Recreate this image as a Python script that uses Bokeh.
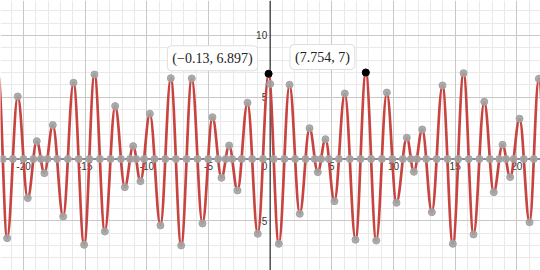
import numpy as np
from bokeh.plotting import figure
from bokeh.models import Span, Grid, FixedTicker, Label, Range1d
from bokeh.core.properties import value
from bokeh.embed import file_html
from bokeh.resources import INLINE

# Extrema of the curve (alternating max / min)
ext_x = [-22.05, -21.33, -20.47, -19.66, -18.93, -18.31, -17.63, -16.79, -15.95, -15.09,
         -14.25, -13.41, -12.57, -11.79, -11.11, -10.52, -9.76, -8.90, -8.06, -7.22,
         -6.36, -5.49, -4.68, -3.95, -3.33, -2.65, -1.84, -1.01, -0.13, 0.70,
         1.57, 2.40, 3.19, 3.86, 4.48, 5.21, 6.05, 6.92, 7.754, 8.60,
         9.46, 10.24, 11.08, 11.65, 12.33, 13.11, 13.97, 14.81, 15.68, 16.49,
         17.36, 18.13, 18.84, 19.46, 20.22, 21.03, 21.78, 22.60]
ext_y = [6.80, -6.41, 5.06, -3.17, 1.44, -1.15, 2.74, -4.66, 6.17, -6.95,
         6.84, -5.87, 4.28, -2.28, 1.04, -1.80, 3.66, -5.38, 6.54, -7.00,
         6.52, -5.22, 3.38, -1.52, 1.09, -2.55, 4.55, -6.06, 6.897, -6.87,
         6.01, -4.44, 2.49, -1.07, 1.60, -3.42, 5.30, -6.54, 7.00, -6.60,
         5.38, -3.55, 1.72, -1.04, 2.39, -4.31, 5.95, -6.87, 6.95, -6.11,
         4.63, -2.69, 1.15, -1.47, 3.26, -5.12, 6.49, -7.00]

# Highlighted points with their labels
pt_x = [-0.13, 7.754]
pt_y = [6.897, 7.0]
pt_text = ["(\u22120.13, 6.897)", "(7.754, 7)"]

# Axis tick labels
xtick_vals = [-20, -15, -10, -5, 5, 10, 15, 20]
xtick_text = ["-20", "-15", "-10", "-5", "5", "10", "15", "20"]
ytick_vals = [-5, 5, 10]
ytick_text = ["-5", "5", "10"]

X_RANGE = (-21.87, 21.92)
Y_RANGE = (-9.03, 12.83)

CURVE = "#c74440"
GRAY = "#a3a3a3"

p = figure(width=540, height=270, output_backend="svg", toolbar_location=None,
           x_range=Range1d(*X_RANGE), y_range=Range1d(*Y_RANGE),
           x_axis_location=None, y_axis_location=None, min_border=0,
           outline_line_color=None, background_fill_color="white",
           border_fill_color="white")
p.grid.visible = False

minor = [float(v) for v in range(-30, 31) if v % 5 != 0]
major = [float(v) for v in range(-30, 31, 5) if v != 0]
for dim in (0, 1):
    p.add_layout(Grid(dimension=dim, ticker=FixedTicker(ticks=minor),
                      grid_line_color="#e9e9e9", grid_line_width=1))
for dim in (0, 1):
    p.add_layout(Grid(dimension=dim, ticker=FixedTicker(ticks=major),
                      grid_line_color="#c8c8c8", grid_line_width=1))

p.add_layout(Span(location=0, dimension="width", line_color="#666666",
                  line_width=1.6, level="underlay"))
p.add_layout(Span(location=0, dimension="height", line_color="#444444",
                  line_width=1.4, level="underlay"))

# tick labels
font = value("Liberation Sans")
p.text(x=xtick_vals, y=[0] * len(xtick_vals), text=xtick_text, text_font=font,
       text_font_size="10px", text_color="#333333", text_align="center",
       text_baseline="top", y_offset=3)
p.text(x=[0] * len(ytick_vals), y=ytick_vals, text=ytick_text, text_font=font,
       text_font_size="10px", text_color="#333333", text_align="right",
       text_baseline="middle", x_offset=-3)
p.text(x=[0], y=[0], text=["0"], text_font=font, text_font_size="10px",
       text_color="#333333", text_align="right", text_baseline="top",
       x_offset=-3, y_offset=3)

# curve: cubic Bezier pieces between consecutive extrema (horizontal tangents)
ex = np.array(ext_x)
ey = np.array(ext_y)
k = 1 - 2 / np.pi
x0, x3 = ex[:-1], ex[1:]
y0, y3 = ey[:-1], ey[1:]
dx = x3 - x0
cx0 = x0 + k * dx
cx1 = x3 - k * dx
p.bezier(x0=x0, y0=y0, x1=x3, y1=y3, cx0=cx0, cy0=y0, cx1=cx1, cy1=y3,
         line_color=CURVE, line_width=2.7)


def bez_x(i, t):
    return ((1 - t) ** 3 * x0[i] + 3 * (1 - t) ** 2 * t * cx0[i]
            + 3 * (1 - t) * t ** 2 * cx1[i] + t ** 3 * x3[i])


# zero crossings of each piece
zx = []
for i in range(len(x0)):
    r = y0[i] / (y0[i] - y3[i])
    for t in np.roots([2.0, -3.0, 0.0, r]):
        if abs(t.imag) < 1e-9 and 0 <= t.real <= 1:
            zx.append(bez_x(i, t.real))
            break
zx = [v for v in zx if X_RANGE[0] < v < X_RANGE[1]]

# y-intercept
yint = None
for i in range(len(x0)):
    if x0[i] < 0 < x3[i]:
        a = -x0[i] + 3 * cx0[i] - 3 * cx1[i] + x3[i]
        b = 3 * x0[i] - 6 * cx0[i] + 3 * cx1[i]
        c = -3 * x0[i] + 3 * cx0[i]
        d = x0[i]
        for t in np.roots([a, b, c, d]):
            if abs(t.imag) < 1e-9 and 0 <= t.real <= 1:
                tt = t.real
                yint = y0[i] + (y3[i] - y0[i]) * (3 * tt ** 2 - 2 * tt ** 3)
                break

vis = [(a, b) for a, b in zip(ext_x, ext_y) if X_RANGE[0] < a < X_RANGE[1]]
gx = [a for a, b in vis] + zx + [0.0]
gy = [b for a, b in vis] + [0.0] * len(zx) + [yint]
p.scatter(x=gx, y=gy, size=7, fill_color=GRAY, line_color=GRAY, fill_alpha=0.9)

p.scatter(x=pt_x, y=pt_y, size=7, fill_color="black", line_color="black")

for px_, py_, t_ in zip(pt_x, pt_y, pt_text):
    p.add_layout(Label(x=px_, y=py_, text=t_, text_align="right",
                       text_baseline="bottom", x_offset=-11, y_offset=3,
                       text_font="Liberation Serif", text_font_size="14px",
                       text_color="#222222", background_fill_color="white",
                       background_fill_alpha=1.0, border_line_color="#dedede",
                       border_line_width=1, padding=5, border_radius=4))

open("out.html", "w").write(file_html(p, INLINE))
